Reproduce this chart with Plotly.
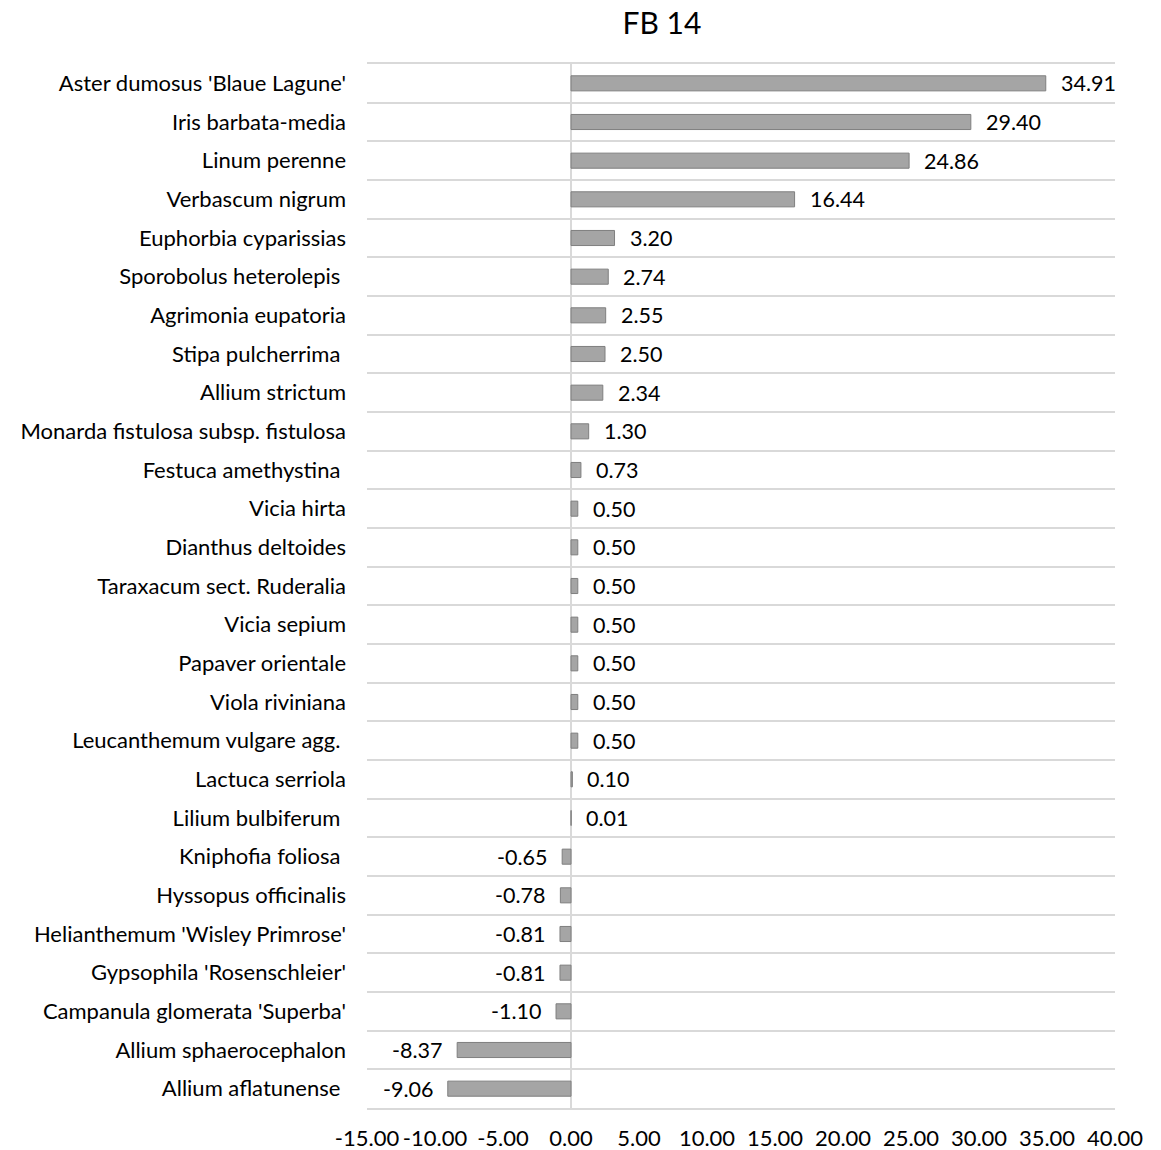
import plotly.graph_objects as go

# Species, listed top to bottom as they appear on the chart
species = [
    "Aster dumosus 'Blaue Lagune'",
    "Iris barbata-media",
    "Linum perenne",
    "Verbascum nigrum",
    "Euphorbia cyparissias",
    "Sporobolus heterolepis ",
    "Agrimonia eupatoria",
    "Stipa pulcherrima ",
    "Allium strictum",
    "Monarda fistulosa subsp. fistulosa",
    "Festuca amethystina ",
    "Vicia hirta",
    "Dianthus deltoides",
    "Taraxacum sect. Ruderalia",
    "Vicia sepium",
    "Papaver orientale",
    "Viola riviniana",
    "Leucanthemum vulgare agg. ",
    "Lactuca serriola",
    "Lilium bulbiferum ",
    "Kniphofia foliosa ",
    "Hyssopus officinalis",
    "Helianthemum 'Wisley Primrose'",
    "Gypsophila 'Rosenschleier'",
    "Campanula glomerata 'Superba'",
    "Allium sphaerocephalon",
    "Allium aflatunense ",
]

values = [
    34.91, 29.40, 24.86, 16.44, 3.20, 2.74, 2.55, 2.50, 2.34, 1.30,
    0.73, 0.50, 0.50, 0.50, 0.50, 0.50, 0.50, 0.50, 0.10, 0.01,
    -0.65, -0.78, -0.81, -0.81, -1.10, -8.37, -9.06,
]

x_ticks = [-15, -10, -5, 0, 5, 10, 15, 20, 25, 30, 35, 40]

FONT = "Lato"

# keep trailing spaces visible in the tick labels
shown = [s[:-1] + "\u00a0" if s.endswith(" ") else s for s in species]

fig = go.Figure(
    go.Bar(
        x=values,
        y=species,
        orientation="h",
        marker=dict(color="#a5a5a5", line=dict(color="#7f7f7f", width=1)),
        width=0.39,
        hoverinfo="x+y",
    )
)

# value labels beside each bar
for name, v in zip(species, values):
    fig.add_annotation(
        x=v,
        y=name,
        text=f"{v:.2f}",
        showarrow=False,
        xanchor="left" if v >= 0 else "right",
        xshift=13 if v >= 0 else -13,
        font=dict(family=FONT, size=21.5, color="#000000"),
    )

fig.update_layout(
    width=1161,
    height=1150,
    margin=dict(l=367, r=46, t=64, b=42),
    paper_bgcolor="white",
    plot_bgcolor="white",
    showlegend=False,
    title=dict(
        text="FB 14",
        x=662 / 1161,
        xanchor="center",
        xref="container",
        y=1 - 23 / 1150,
        yanchor="middle",
        font=dict(family=FONT, size=30, color="#000000"),
    ),
    font=dict(family=FONT, color="#000000"),
)

fig.update_xaxes(
    range=[-15, 40],
    tickvals=x_ticks,
    ticktext=[f"{t:.2f}" for t in x_ticks],
    showgrid=False,
    zeroline=True,
    zerolinecolor="#d9d9d9",
    zerolinewidth=2,
    showline=True,
    mirror=True,
    linecolor="#d9d9d9",
    linewidth=2,
    ticks="",
    ticklabelstandoff=10,
    automargin=False,
    tickfont=dict(family=FONT, size=22, color="#000000"),
)

fig.update_yaxes(
    categoryorder="array",
    categoryarray=species,
    tickvals=species,
    ticktext=shown,
    autorange="reversed",
    tickson="boundaries",
    showgrid=True,
    gridcolor="#d9d9d9",
    gridwidth=2,
    ticks="",
    ticklabelstandoff=20,
    automargin=False,
    tickfont=dict(family=FONT, size=22, color="#000000"),
)

fig.write_html("out.html")
